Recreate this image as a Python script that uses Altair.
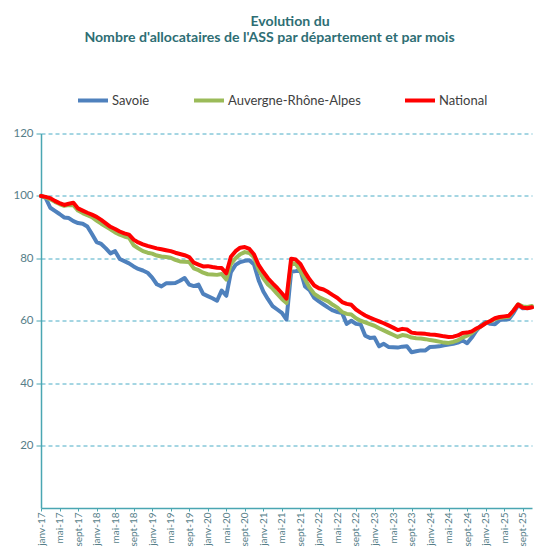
import altair as alt
import pandas as pd

month_abbr = ["janv", "févr", "mars", "avr", "mai", "juin", "juil", "août", "sept", "oct", "nov", "déc"]
years = ["17", "18", "19", "20", "21", "22", "23", "24", "25"]
months = [f"{m}-{y}" for y in years for m in month_abbr][:107]
tick_labels = months[::4]
tick_positions = list(range(0, 107, 4))

series_names = ["Savoie", "Auvergne-Rhône-Alpes", "National"]
series_colors = ["#4F81BD", "#9BBB59", "#FF0000"]

savoie = [
    100.0, 99.4, 96.2, 95.2, 94.2, 93.1, 92.9, 91.9, 91.3, 91.1,
    90.2, 87.8, 85.2, 84.6, 83.2, 81.6, 82.3, 79.8, 79.1, 78.4,
    77.4, 76.6, 76.1, 75.4, 73.8, 71.7, 71.0, 72.0, 72.0, 72.1,
    72.8, 73.7, 71.6, 71.1, 71.6, 68.6, 67.9, 67.2, 66.4, 69.7,
    68.0, 75.6, 77.9, 78.8, 79.2, 79.4, 78.0, 72.9, 69.4, 66.9,
    64.7, 63.6, 62.5, 60.4, 75.7, 75.9, 76.2, 71.0, 69.8, 67.3,
    66.2, 65.2, 64.2, 63.3, 62.8, 62.5, 59.0, 60.0, 59.0, 58.8,
    55.2, 54.5, 54.6, 51.8, 52.6, 51.6, 51.5, 51.4, 51.7, 51.8,
    49.9, 50.2, 50.5, 50.5, 51.6, 51.7, 51.8, 52.1, 52.4, 52.6,
    53.0, 53.7, 52.8, 54.6, 56.8, 58.5, 59.6, 59.0, 58.9, 60.2,
    60.4, 60.5, 62.5, 65.0, 64.0, 64.1, 64.4,
]

ara = [
    100.0, 99.5, 98.9, 98.1, 97.4, 96.8, 97.1, 97.0, 95.3, 94.5,
    93.8, 93.2, 92.1, 91.1, 90.2, 89.3, 88.3, 87.6, 87.0, 86.6,
    84.2, 83.2, 82.3, 81.8, 81.5, 80.9, 80.6, 80.4, 80.2, 79.5,
    79.0, 78.9, 78.8, 76.8, 76.2, 75.4, 74.9, 74.8, 74.7, 75.0,
    73.2, 78.2, 80.0, 81.3, 82.0, 81.7, 80.3, 76.3, 73.6, 71.6,
    70.3, 68.6, 67.0, 65.7, 78.6, 78.2, 76.0, 73.3, 70.6, 68.6,
    67.6, 66.9, 66.2, 65.1, 64.2, 62.8, 62.2, 62.0, 60.8, 60.0,
    59.5, 58.9, 58.4, 57.6, 56.9, 56.2, 55.5, 54.8, 55.4, 55.2,
    54.6, 54.4, 54.3, 54.1, 53.8, 53.6, 53.3, 53.0, 52.9, 53.2,
    53.7, 54.6, 55.2, 56.1, 57.3, 58.2, 59.3, 59.8, 60.5, 60.9,
    61.1, 61.3, 63.3, 65.3, 64.6, 64.4, 64.7,
]

national = [
    100.0, 99.7, 99.3, 98.4, 97.7, 97.1, 97.5, 97.8, 96.0, 95.3,
    94.6, 94.0, 93.3, 92.3, 91.2, 90.1, 89.4, 88.6, 88.0, 87.6,
    86.0, 85.1, 84.5, 84.0, 83.6, 83.2, 82.9, 82.6, 82.3, 81.8,
    81.4, 81.0, 80.4, 78.6, 78.0, 77.4, 77.5, 77.2, 77.0, 76.9,
    75.2, 80.5, 82.3, 83.4, 83.6, 83.0, 81.2, 77.8, 75.6, 73.6,
    72.0, 70.5, 68.8, 67.1, 79.9, 79.6, 78.2, 75.5, 73.2, 71.3,
    70.4, 70.0, 69.2, 68.2, 67.3, 66.0, 65.4, 65.1, 63.6, 62.6,
    61.7, 61.0, 60.4, 59.8, 59.2, 58.5, 57.8, 57.0, 57.4, 57.2,
    56.2, 56.0, 55.9, 55.8, 55.6, 55.5, 55.3, 55.0, 54.8, 54.9,
    55.3, 56.1, 56.2, 56.6, 57.5, 58.2, 59.2, 59.9, 60.8, 61.2,
    61.4, 61.6, 63.2, 65.2, 64.2, 64.0, 64.3,
]

y_ticks = [20, 40, 60, 80, 100, 120]

rows = []
for name, vals in zip(series_names, [savoie, ara, national]):
    for i, (mo, v) in enumerate(zip(months, vals)):
        rows.append({"idx": i, "mois": mo, "valeur": v, "serie": name})
df = pd.DataFrame(rows)

label_array = "[" + ",".join("'" + t + "'" for t in tick_labels) + "]"

teal = "#4AA6B2"
label_col = "#567E88"

chart = (
    alt.Chart(df)
    .mark_line(strokeWidth=4, strokeJoin="round", strokeCap="round")
    .encode(
        x=alt.X(
            "idx:Q",
            scale=alt.Scale(domain=[0, len(months) - 1], nice=False, zero=False),
            axis=alt.Axis(
                values=tick_positions,
                labelExpr=label_array + "[round(datum.value / 4)]",
                labelAngle=270,
                title=None,
                grid=False,
                domainColor=teal,
                domainWidth=1.5,
                tickColor=teal,
                tickSize=3,
                labelFont="Lato",
                labelFontSize=10,
                labelColor=label_col,
                labelPadding=1,
                labelOverlap=False,
                labelFlush=False,
                labelBound=False,
            ),
        ),
        y=alt.Y(
            "valeur:Q",
            scale=alt.Scale(domain=[0, 120], nice=False),
            axis=alt.Axis(
                values=y_ticks,
                title=None,
                grid=True,
                gridDash=[4, 3],
                gridColor="#4BACC6",
                gridWidth=1,
                domainColor=teal,
                domainWidth=1.5,
                tickColor=teal,
                tickSize=5,
                labelFont="Lato",
                labelFontSize=11.5,
                labelColor=label_col,
                labelPadding=3,
                labelFlush=False,
            ),
        ),
        color=alt.Color(
            "serie:N",
            sort=series_names,
            scale=alt.Scale(domain=series_names, range=series_colors),
            legend=alt.Legend(
                orient="none",
                legendX=35,
                legendY=-50,
                direction="horizontal",
                title=None,
                symbolType="stroke",
                symbolStrokeWidth=4,
                symbolSize=900,
                labelFont="Lato",
                labelFontSize=13,
                labelColor="#404040",
                columnPadding=36,
                labelOffset=2,
                padding=0,
            ),
        ),
        detail="serie:N",
    )
    .properties(
        width=526,
        height=539,
        autosize=alt.AutoSizeParams(type="fit", contains="padding"),
        padding={"left": 4, "top": 6.5, "right": 0, "bottom": 0},
        title=alt.TitleParams(
            text=["\u200b" + "\u00a0" * 12 + "Evolution du", "Nombre d'allocataires de l'ASS par département et par mois"],
            font="Lato",
            fontSize=14.1,
            fontWeight="bold",
            color="#2E6E74",
            anchor="middle",
            offset=82.5,
            dx=-17,
            lineHeight=16,
        ),
    )
    .configure_view(stroke=None)
)

chart.save("out.html", embed_options={"renderer": "svg", "actions": False})
